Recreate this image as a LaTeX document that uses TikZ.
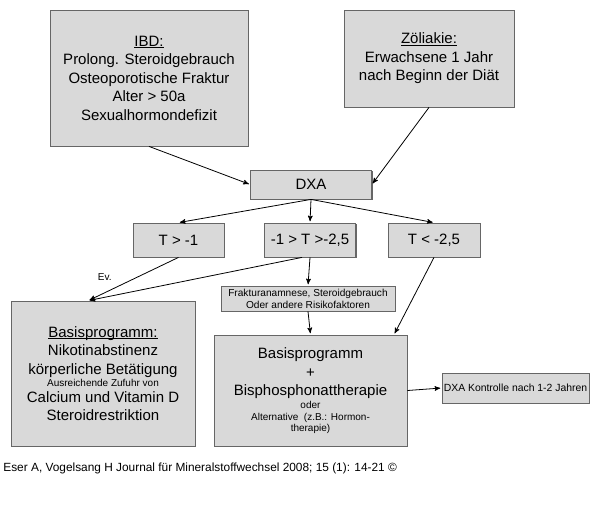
\documentclass[tikz,border=0pt]{standalone}
\usepackage{fontspec}
\setmainfont{Liberation Sans}
\usepackage{tikz}
\usepackage{xcolor}
\usetikzlibrary{arrows,shadows}
\usetikzlibrary{positioning}

\newcommand{\bigtxt}{\fontsize{11.25}{13.9}\selectfont}
\newcommand{\smtxt}{\fontsize{7.5}{9}\selectfont}
\newcommand{\undl}[1]{\setbox0\hbox{#1}\rlap{\vrule height -0.8pt depth 1.5pt width \wd0}\box0}

\begin{document}
\begin{tikzpicture}[->, >=stealth', shorten >=1pt, x=0.75pt, y=-0.75pt,
                semithick, main node/.style={rectangle,draw=black!60,fill=gray!30,
                drop shadow={shadow xshift=0.8pt, shadow yshift=-0.8pt, fill=black!60, opacity=1},
                inner sep=1pt,align=center,font=\bigtxt}]
  \useasboundingbox (0,0) rectangle (600,518);

  \node[main node, minimum width=148.5pt, minimum height=102pt] (1) at (149,78)
    {\undl{IBD:}\\Prolong. Steroidgebrauch\\Osteoporotische Fraktur\\Alter > 50a\\Sexualhormondefizit};
  \node[main node, minimum width=127.5pt, minimum height=72.75pt] (2) at (429,58.5)
    {\undl{Zöliakie:}\\Erwachsene 1 Jahr\\nach Beginn der Diät};
  \node[main node, minimum width=90.75pt, minimum height=21.75pt] (3) at (311,184.5) {DXA};
  \node[main node, minimum width=68.25pt, minimum height=25.5pt] (4) at (178.5,240) {T > -1};
  \node[main node, minimum width=68.25pt, minimum height=25.5pt] (5) at (310,240) {-1 > T >-2,5};
  \node[main node, minimum width=69pt, minimum height=25.5pt] (6) at (434,240) {T < -2,5};
  \node[main node, minimum width=130.5pt, minimum height=18.75pt, font=\fontsize{7.6}{9}\selectfont] (7) at (308,298.5)
    {Frakturanamnese, Steroidgebrauch\\Oder andere Risikofaktoren};
  \node[main node, minimum width=138pt, minimum height=108.75pt] (8) at (103,373.5)
    {\undl{Basisprogramm:}\\Nikotinabstinenz\\körperliche Betätigung\\[-4.7pt]{\smtxt Ausreichende Zufuhr von}\\[-2.1pt]Calcium und Vitamin D\\Steroidrestriktion};
  \node[main node, minimum width=144.75pt, minimum height=83.25pt] (9) at (310.5,390.5)
    {Basisprogramm\\+\\Bisphosphonattherapie\\[-4pt]{\smtxt oder}\\[-5.6pt]{\smtxt Alternative\ \ (z.B.: Hormon-}\\[-5.6pt]{\smtxt therapie)}};
  \node[main node, minimum width=110.25pt, minimum height=22.5pt, font=\fontsize{7.8}{9}\selectfont] (10) at (515.5,388)
    {DXA Kontrolle nach 1-2 Jahren};

  \node[anchor=west, inner sep=0pt, font=\fontsize{8.9}{10}\selectfont] (src) at (3,468)
    {Eser A, Vogelsang H Journal für Mineralstoffwechsel 2008; 15 (1): 14-21 ©};

  \path
    (1.south) edge (3.west)
    (2.south) edge (3.east)
    (3.south) edge (4.north)
              edge (5.north)
              edge (6.north)
    (4.south) edge node[midway, left=15pt, yshift=1.5pt, inner sep=1pt, font=\smtxt] {Ev.} ([xshift=-11pt]8.north)
    ([xshift=-6pt]5.south) edge ([xshift=-11pt]8.north)
    (5.south) edge (7.north)
    (7.south) edge (9.north)
    (6.south) edge ([xshift=-10pt]9.north east)
    (9.east) edge (10.west);
\end{tikzpicture}
\end{document}
